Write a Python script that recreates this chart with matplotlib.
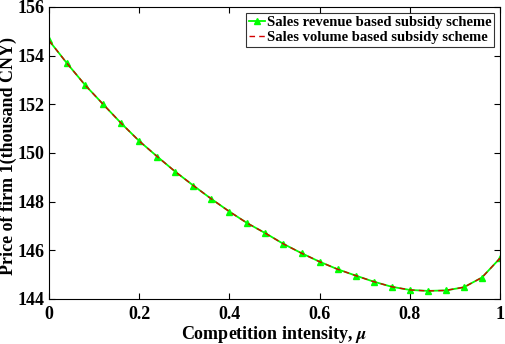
import matplotlib
matplotlib.use("Agg")
import matplotlib.pyplot as plt

mu = [0.00, 0.04, 0.08, 0.12, 0.16, 0.20, 0.24, 0.28, 0.32, 0.36, 0.40, 0.44, 0.48,
      0.52, 0.56, 0.60, 0.64, 0.68, 0.72, 0.76, 0.80, 0.84, 0.88, 0.92, 0.96, 1.00]
revenue_price = [154.62, 153.68, 152.79, 152.00, 151.22, 150.49, 149.85, 149.23, 148.66,
                 148.11, 147.59, 147.11, 146.70, 146.26, 145.88, 145.53, 145.22, 144.96,
                 144.71, 144.50, 144.37, 144.33, 144.35, 144.48, 144.88, 145.67]
volume_price = list(revenue_price)

xticks = [0, 0.2, 0.4, 0.6, 0.8, 1]
xticklabels = ["0", "0.2", "0.4", "0.6", "0.8", "1"]
yticks = [144, 146, 148, 150, 152, 154, 156]

plt.rcParams['font.family'] = ['Liberation Serif', 'DejaVu Serif']
plt.rcParams['font.weight'] = 'bold'
plt.rcParams['mathtext.fontset'] = 'stix'

fig = plt.figure(figsize=(5.05, 3.44), dpi=100)
ax = fig.add_axes([0.097, 0.131, 0.893, 0.849])

ax.plot(mu, revenue_price, color='#00ff00', lw=1.3, marker='^', ms=5,
        mfc='#00ff00', mec='#00ff00', label='Sales revenue based subsidy scheme')
ax.plot(mu, volume_price, color='#d40000', lw=1.0, ls=(0, (4, 3)),
        label='Sales volume based subsidy scheme')

ax.set_xlim(0, 1)
ax.set_ylim(144, 156)
ax.set_xticks(xticks)
ax.set_xticklabels(xticklabels)
ax.set_yticks(yticks)
ax.tick_params(direction='in', top=True, right=True, labelsize=13, length=4, width=0.8)
ax.tick_params(axis='x', pad=5)
ax.tick_params(axis='y', pad=3)
for lab in ax.get_xticklabels() + ax.get_yticklabels():
    lab.set_fontweight('bold')
for s in ax.spines.values():
    s.set_linewidth(0.8)

ax.set_xlabel(r'Competition intensity, $\mu$', fontsize=13, fontweight='bold', labelpad=1)
ax.set_ylabel('Price of firm 1(thousand CNY)', fontsize=13, fontweight='bold')
ax.yaxis.set_label_coords(-0.070, 0.49)

leg = ax.legend(loc='upper right', fontsize=10.5, frameon=True, fancybox=False,
                edgecolor='black', handlelength=1.1, handletextpad=0.1,
                borderpad=0.2, labelspacing=0.15, borderaxespad=0.4)
leg.get_frame().set_linewidth(0.8)
for t in leg.get_texts():
    t.set_fontweight('bold')

fig.savefig('out.png', dpi=100)
